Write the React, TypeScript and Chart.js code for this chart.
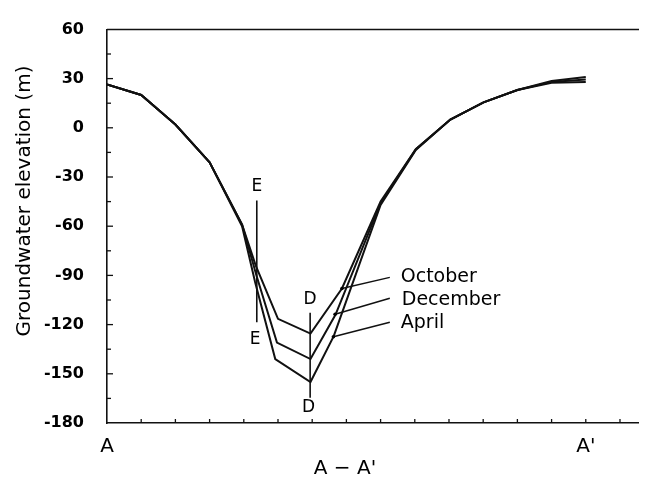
import React, { useEffect, useRef } from "react";
import { Chart, registerables } from "chart.js";

Chart.register(...registerables);

// ---- data (x = distance units along section A–A', y = groundwater elevation, m)
const octoberX = [0, 1, 2, 3, 3.95, 4.35, 5.0, 5.95, 6.87, 8.0, 9.03, 10.04, 11.01, 12, 13, 14];
const octoberY = [26.5, 20, 2, -21, -59, -84, -116.5, -125.5, -98, -45, -13, 5, 15.5, 23, 28.5, 31];
const decemberX = [0, 1, 2, 3, 3.95, 4.37, 4.97, 5.95, 6.68, 8.0, 9.03, 10.04, 11.01, 12, 13, 14];
const decemberY = [26.5, 20, 2, -21, -59, -90, -131, -141, -114, -46, -13, 5, 15.5, 23, 28, 29.5];
const aprilX = [0, 1, 2, 3, 3.95, 4.33, 4.92, 5.95, 6.63, 8.0, 9.03, 10.04, 11.01, 12, 13, 14];
const aprilY = [26.5, 20, 2, -21, -60, -94, -141, -155, -127, -47, -13.5, 5, 15.5, 23, 27.5, 28];

const seriesNames = ["October", "December", "April"];
const xTickValues = [0, 14];
const xTickLabels = ["A", "A'"];
const yMin = -180;
const yMax = 60;
const yStep = 30;
const xMin = 0;
const xMax = 15.79;
const xTitle = "A \u2212 A'";
const yTitle = "Groundwater elevation (m)";
const sectionMarks = ["E", "D"];

const FONT = "'DejaVu Sans', sans-serif";

function pts(xs: number[], ys: number[]) {
  return xs.map((x, i) => ({ x, y: ys[i] }));
}

const decorPlugin = {
  id: "decor",
  afterDraw(chart: any) {
    const ctx = chart.ctx as CanvasRenderingContext2D;
    const xs = chart.scales.x;
    const ys = chart.scales.y;
    const area = chart.chartArea;
    const px = (v: number) => xs.getPixelForValue(v);
    const py = (v: number) => ys.getPixelForValue(v);
    ctx.save();
    ctx.strokeStyle = "#111";
    ctx.fillStyle = "#000";
    ctx.lineCap = "butt";

    // top border
    ctx.lineWidth = 1.5;
    ctx.beginPath();
    ctx.moveTo(area.left, area.top);
    ctx.lineTo(area.right, area.top);
    ctx.stroke();

    // inward ticks on y axis
    ctx.lineWidth = 1.3;
    for (let v = yMin + 15; v < yMax; v += 15) {
      const len = v % 30 === 0 ? 6 : 4;
      ctx.beginPath();
      ctx.moveTo(area.left, py(v));
      ctx.lineTo(area.left + len, py(v));
      ctx.stroke();
    }
    // inward ticks on x axis
    for (let i = 1; i <= 15; i++) {
      ctx.beginPath();
      ctx.moveTo(px(i), area.bottom);
      ctx.lineTo(px(i), area.bottom - 4);
      ctx.stroke();
    }

    // section lines E and D
    ctx.lineWidth = 1.6;
    const eX = 4.38;
    const dX = 5.94;
    ctx.beginPath();
    ctx.moveTo(px(eX), py(-44.3));
    ctx.lineTo(px(eX), py(-118.6));
    ctx.moveTo(px(dX), py(-112.7));
    ctx.lineTo(px(dX), py(-164.6));
    ctx.stroke();

    ctx.font = `17px ${FONT}`;
    ctx.textAlign = "center";
    ctx.textBaseline = "middle";
    ctx.fillText(sectionMarks[0], px(eX), py(-35.7));
    ctx.fillText(sectionMarks[0], px(eX - 0.05), py(-129.4));
    ctx.fillText(sectionMarks[1], px(dX), py(-104.9));
    ctx.fillText(sectionMarks[1], px(dX - 0.05), py(-170.4));

    // series labels with leader lines
    const leaders = [
      { from: [6.87, -98], to: [8.27, -91.2], text: [8.59, -91.2] },
      { from: [6.67, -113.7], to: [8.27, -103.9], text: [8.62, -104.9] },
      { from: [6.62, -127.4], to: [8.27, -118.6], text: [8.59, -119] },
    ];
    ctx.lineWidth = 1.5;
    ctx.font = `19px ${FONT}`;
    ctx.textAlign = "left";
    leaders.forEach((l, i) => {
      ctx.beginPath();
      ctx.moveTo(px(l.from[0]), py(l.from[1]));
      ctx.lineTo(px(l.to[0]), py(l.to[1]));
      ctx.stroke();
      ctx.beginPath();
      ctx.arc(px(l.from[0]), py(l.from[1]), 1.8, 0, Math.PI * 2);
      ctx.fill();
      ctx.fillText(seriesNames[i], px(l.text[0]), py(l.text[1]));
    });

    // axis titles
    ctx.font = `20px ${FONT}`;
    ctx.textAlign = "center";
    ctx.textBaseline = "middle";
    ctx.fillText(xTitle, 337, 461);
    ctx.translate(17, 193);
    ctx.rotate(-Math.PI / 2);
    ctx.fillText(yTitle, 0, 0);
    ctx.restore();
  },
};

export default function App() {
  const ref = useRef<HTMLCanvasElement | null>(null);
  useEffect(() => {
    if (!ref.current) return;
    const mk = (label: string, xs: number[], ys: number[]) => ({
      label,
      data: pts(xs, ys),
      borderColor: "#111",
      borderWidth: 2,
      pointRadius: 0,
      fill: false,
      tension: 0,
    });
    const chart = new Chart(ref.current, {
      type: "line",
      data: {
        datasets: [
          mk(seriesNames[0], octoberX, octoberY),
          mk(seriesNames[1], decemberX, decemberY),
          mk(seriesNames[2], aprilX, aprilY),
        ],
      },
      plugins: [decorPlugin],
      options: {
        responsive: false,
        animation: false,
        layout: { padding: { top: 7, left: 0, right: 0, bottom: 0 } },
        plugins: { legend: { display: false }, tooltip: { enabled: false } },
        scales: {
          x: {
            type: "linear",
            min: xMin,
            max: xMax,
            grid: { display: false },
            border: { display: true, color: "#111", width: 1.6 },
            afterFit: (s: any) => {
              s.height = 64;
            },
            afterBuildTicks: (s: any) => {
              s.ticks = xTickValues.map((v) => ({ value: v }));
            },
            ticks: {
              autoSkip: false,
              maxRotation: 0,
              padding: 4,
              color: "#000",
              font: { family: FONT, size: 20 },
              callback: (v: any) => {
                const i = xTickValues.indexOf(Number(v));
                return i >= 0 ? xTickLabels[i] : "";
              },
            },
          },
          y: {
            min: yMin,
            max: yMax,
            grid: { display: false },
            border: { display: true, color: "#111", width: 1.6 },
            afterFit: (s: any) => {
              s.width = 99;
            },
            ticks: {
              stepSize: yStep,
              padding: 15,
              color: "#000",
              font: { family: FONT, size: 16, weight: "bold", lineHeight: 0.8 },
            },
          },
        },
      },
    } as any);
    return () => chart.destroy();
  }, []);
  return (
    <canvas
      ref={ref}
      width={639}
      height={479}
      style={{ display: "block", width: 639, height: 479 }}
    />
  );
}
